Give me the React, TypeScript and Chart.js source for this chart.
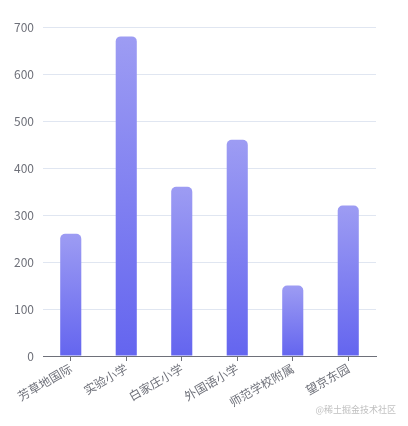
import { useEffect, useRef } from 'react';
import { Chart, registerables } from 'chart.js';

Chart.register(...registerables);

const schools = ['芳草地国际', '实验小学', '白家庄小学', '外国语小学', '师范学校附属', '望京东园'];
const students = [260, 680, 360, 460, 150, 320];
const yTicks = [0, 100, 200, 300, 400, 500, 600, 700];

const FONT = '"Noto Sans CJK SC", "Noto Sans", sans-serif';

export default function App() {
  const canvasRef = useRef<HTMLCanvasElement>(null);

  useEffect(() => {
    document.body.style.margin = '0';
    const ctx = canvasRef.current?.getContext('2d');
    if (!ctx) return;

    const chart = new Chart(ctx, {
      type: 'bar',
      data: {
        labels: schools,
        datasets: [
          {
            data: students,
            barPercentage: 0.38,
            categoryPercentage: 1,
            borderRadius: { topLeft: 5, topRight: 5, bottomLeft: 0, bottomRight: 0 },
            borderSkipped: 'bottom',
            // gradient per bar, light on top
            backgroundColor: (c: any) => {
              const y = c.chart.scales?.y;
              if (!y || c.raw == null) return '#7c7cf2';
              const top = y.getPixelForValue(c.raw);
              const base = y.getPixelForValue(0);
              if (!isFinite(top) || !isFinite(base) || top === base) return '#7c7cf2';
              const g = c.chart.ctx.createLinearGradient(0, top, 0, base);
              g.addColorStop(0, '#9d9cf3');
              g.addColorStop(1, '#6465ef');
              return g;
            },
          },
        ],
      },
      options: {
        animation: false,
        responsive: false,
        layout: { padding: { top: 27, right: 32, left: 0, bottom: 0 } },
        plugins: { legend: { display: false }, tooltip: { enabled: false } },
        scales: {
          x: {
            afterFit: (s: any) => {
              s.height = 70;
            },
            grid: {
              offset: false,
              drawOnChartArea: false,
              drawTicks: true,
              tickLength: 5,
              color: '#6e7079',
            },
            border: { display: true, color: '#6e7079' },
            ticks: {
              color: '#6e7079',
              font: { family: FONT, size: 12 },
              minRotation: 30,
              maxRotation: 30,
              padding: 0,
              autoSkip: false,
            },
          },
          y: {
            min: 0,
            max: 700,
            afterFit: (s: any) => {
              s.width = 43;
            },
            afterBuildTicks: (s: any) => {
              s.ticks = yTicks.map((v) => ({ value: v }));
            },
            grid: { color: '#e0e6f1', drawTicks: false },
            border: { display: false },
            ticks: {
              color: '#6e7079',
              font: { family: FONT, size: 12 },
              padding: 9,
            },
          },
        },
      },
    } as any);
    chart.update();

    return () => chart.destroy();
  }, []);

  return (
    <div style={{ position: 'relative', width: 408, height: 426, background: '#fff' }}>
      <canvas ref={canvasRef} width={408} height={426} style={{ display: 'block' }} />
      <div
        style={{
          position: 'absolute',
          right: 12,
          top: 403,
          fontFamily: FONT,
          fontSize: 9,
          color: '#c0c0c0',
          whiteSpace: 'nowrap',
        }}
      >
        @稀土掘金技术社区
      </div>
    </div>
  );
}
